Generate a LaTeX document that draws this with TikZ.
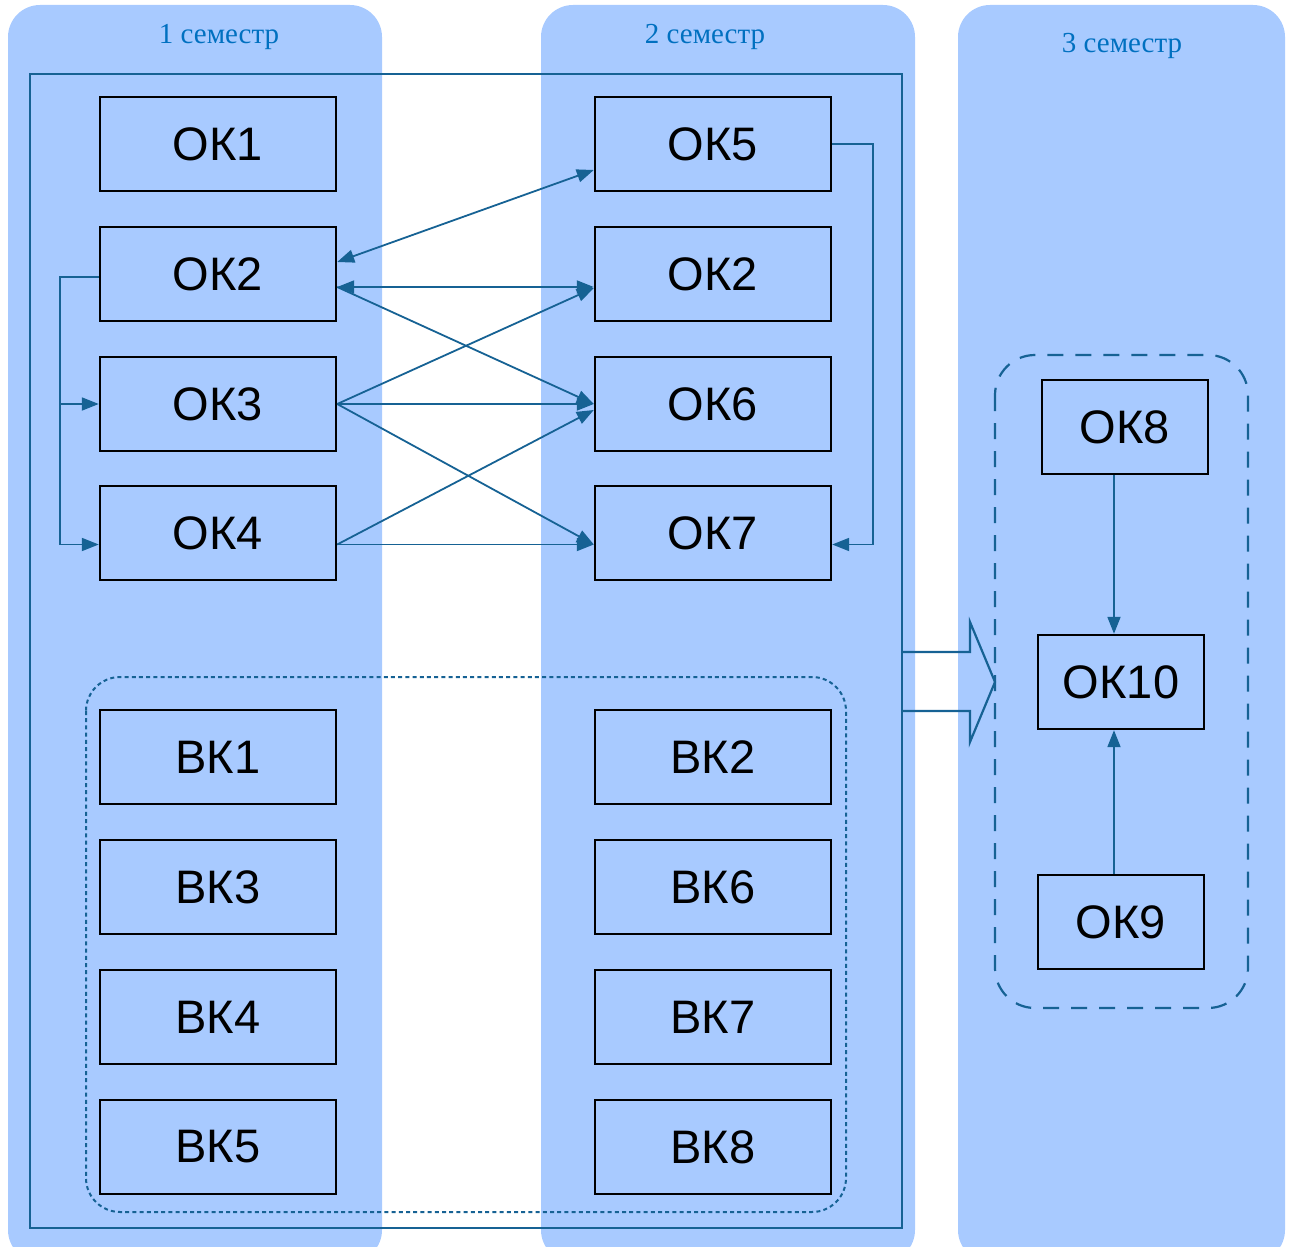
\documentclass[tikz,border=0pt]{standalone}
\usepackage{fontspec}
\setmainfont{Liberation Serif}
\newfontfamily\boxfont{Liberation Sans}
\usetikzlibrary{arrows.meta}
\definecolor{semfill}{RGB}{168,202,255}
\definecolor{semtext}{RGB}{0,112,192}
\definecolor{linkblue}{RGB}{22,98,148}
\begin{document}
\begin{tikzpicture}[x=0.5pt,y=-0.5pt,
	course/.style={draw=black,line width=1.2pt,minimum width=118pt,minimum height=47pt,inner sep=0pt,font=\boxfont\fontsize{23.5}{25}\selectfont},
	link/.style={draw=linkblue,line width=0.9pt,-{Triangle[length=8.5pt,width=6.5pt]}},
	semester/.style={fill=semfill,rounded corners=16pt},
	semtitle/.style={text=semtext,font=\fontsize{14.5}{16}\selectfont}]
			\useasboundingbox (0,0) rectangle (1291,1247);
			\clip (0,0) rectangle (1291,1247);
			\fill[semester] (8,5) rectangle (382,1262);
			\fill[semester] (541,5) rectangle (915,1262);
			\fill[semester] (958,5) rectangle (1285,1262);
			\node[semtitle] (t1) at (219,37) {1 семестр};
			\node[semtitle] (t2) at (705,37) {2 семестр};
			\node[semtitle] (t3) at (1122,46) {3 семестр};
			\draw[linkblue,line width=1.3pt] (30,74) rectangle (902,1228);
			\draw[linkblue,line width=1pt,dash pattern=on 2pt off 1.6pt,rounded corners=17pt] (86,677) rectangle (846,1212);
			\draw[linkblue,line width=1.1pt,dash pattern=on 8pt off 6pt,rounded corners=20pt] (995,355) rectangle (1248,1008);
			% first semester
			\node[course] (ok1) at (218,144) {ОК1};
			\node[course] (ok2a) at (218,274) {ОК2};
			\node[course] (ok3) at (218,404) {ОК3};
			\node[course] (ok4) at (218,533) {ОК4};
			\node[course] (vk1) at (218,757) {ВК1};
			\node[course] (vk3) at (218,887) {ВК3};
			\node[course] (vk4) at (218,1017) {ВК4};
			\node[course] (vk5) at (218,1147) {ВК5};
			% second semester
			\node[course] (ok5) at (713,144) {ОК5};
			\node[course] (ok2b) at (713,274) {ОК2};
			\node[course] (ok6) at (713,404) {ОК6};
			\node[course] (ok7) at (713,533) {ОК7};
			\node[course] (vk2) at (713,757) {ВК2};
			\node[course] (vk6) at (713,887) {ВК6};
			\node[course] (vk7) at (713,1017) {ВК7};
			\node[course] (vk8) at (713,1147) {ВК8};
			% third semester
			\node[course,minimum width=83pt] (ok8) at (1125,427) {ОК8};
			\node[course,minimum width=83pt] (ok10) at (1121,682) {ОК10};
			\node[course,minimum width=83pt] (ok9) at (1121,922) {ОК9};
			\coordinate (split) at (60,404);
			\coordinate (turn) at (873,400);
			\draw[link,{Triangle[length=8.5pt,width=6.5pt]}-{Triangle[length=8.5pt,width=6.5pt]}] ([yshift=6pt]ok2a.east) -- ([yshift=-13pt]ok5.west);
			\draw[link,{Triangle[length=8.5pt,width=6.5pt]}-{Triangle[length=8.5pt,width=6.5pt]}] ([yshift=-6.5pt]ok2a.east) -- ([yshift=-6.5pt]ok2b.west);
			\draw[link] ([yshift=-6.5pt]ok2a.east) -- (ok6.west);
			\draw[link] (ok3.east) -- ([yshift=-7pt]ok2b.west);
			\draw[link] (ok3.east) -- (ok6.west);
			\draw[link] (ok3.east) -- ([yshift=-5.75pt]ok7.west);
			\draw[link] ([yshift=-5.75pt]ok4.east) -- ([yshift=-3pt]ok6.west);
			\draw[link] ([yshift=-5.75pt]ok4.east) -- ([yshift=-5.75pt]ok7.west);
			\draw[link] ([yshift=-1.5pt]ok2a.west) -| (split) |- ([yshift=-5.75pt]ok4.west);
			\draw[link] (split) -- (ok3.west);
			\draw[link] (ok5.east) -| (turn) |- ([yshift=-5.75pt]ok7.east);
			\draw[link] ([xshift=-5.5pt]ok8.south) -- ([xshift=-3.5pt]ok10.north);
			\draw[link] ([xshift=-3.5pt]ok9.north) -- ([xshift=-3.5pt]ok10.south);
			% passage to the third semester
			\draw[linkblue,line width=1.1pt] (903,652) -- (970,652) -- (970,622) -- (995,682) -- (970,742) -- (970,711) -- (903,711);
\end{tikzpicture}
\end{document}
